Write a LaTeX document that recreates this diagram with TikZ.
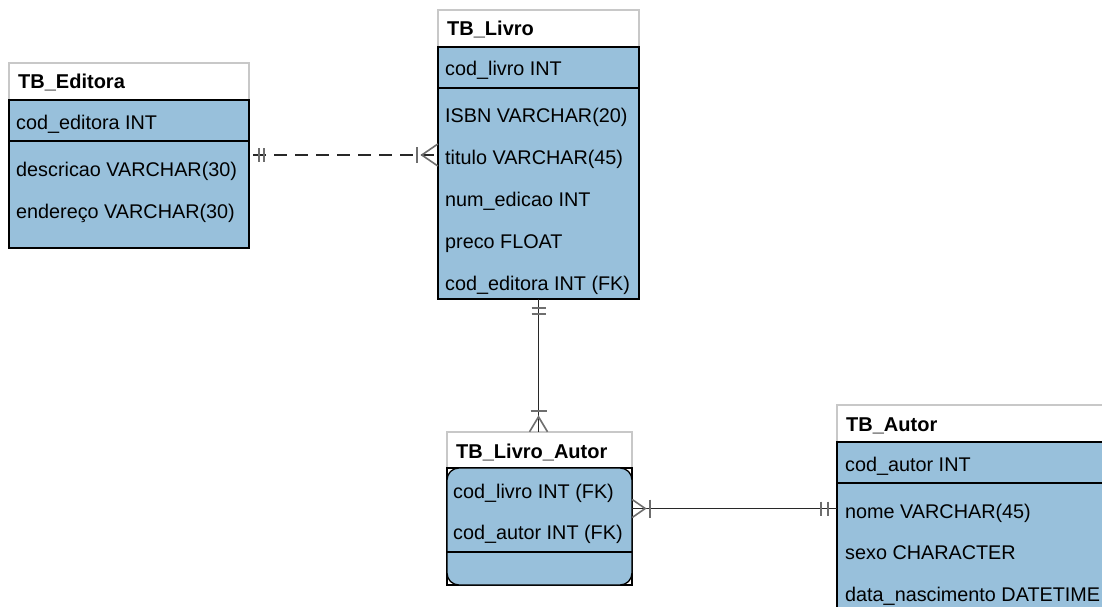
\documentclass[tikz,border=0pt]{standalone}
\usepackage{fontspec}
\setmainfont{Liberation Sans}
\usepackage{tikz}

\definecolor{rowblue}{RGB}{152,192,219}
\definecolor{titlegray}{RGB}{200,200,200}
\definecolor{markgray}{RGB}{110,110,110}
\definecolor{linedark}{RGB}{40,40,40}

\tikzset{
  tframe/.style={draw=none, inner sep=0pt},
  tbl/.style={draw=black, line width=1.3pt, fill=rowblue},
  tbltitle/.style={draw=titlegray, line width=1.3pt, fill=white},
  attr/.style={anchor=base west, inner sep=0pt, font=\fontsize{19.8}{22}\selectfont},
  ttl/.style={anchor=base west, inner sep=0pt, font=\fontsize{20}{22}\selectfont\bfseries},
  rel/.style={draw=linedark, line width=1.6pt},
  ermark/.style={draw=markgray, line width=2.2pt},
  erfoot/.style={draw=markgray, line width=1.6pt},
}

\begin{document}
\begin{tikzpicture}[x=1pt, y=-1pt]
\clip (0,0) rectangle (1102,607);
\fill[white] (0,0) rectangle (1102,607);

% TB_Editora
\node[tframe, minimum width=240pt, minimum height=185pt] (editora) at (129,155) {};
\draw[tbltitle] (9,63) rectangle (249,100);
\draw[tbl] (9,100) rectangle (249,248);
\draw[tbl] (9,141) -- (249,141);
\node[ttl] (editora-t) at (18,88.3) {TB\_Editora};
\node[attr] (editora-pk) at (16,129) {cod\_editora INT};
\node[attr] (editora-a1) at (16,176.5) {descricao VARCHAR(30)};
\node[attr] (editora-a2) at (16,218.5) {endereço VARCHAR(30)};

% TB_Livro
\node[tframe, minimum width=201pt, minimum height=289pt] (livro) at (538.5,154.5) {};
\draw[tbltitle] (438,10) rectangle (639,47);
\draw[tbl] (438,47) rectangle (639,299);
\draw[tbl] (438,88) -- (639,88);
\node[ttl] (livro-t) at (447,36) {TB\_Livro};
\node[attr] (livro-pk) at (445,76) {cod\_livro INT};
\node[attr] (livro-a1) at (445,122.5) {ISBN VARCHAR(20)};
\node[attr] (livro-a2) at (445,164.5) {titulo VARCHAR(45)};
\node[attr] (livro-a3) at (445,206) {num\_edicao INT};
\node[attr] (livro-a4) at (445,248) {preco FLOAT};
\node[attr] (livro-a5) at (445,290) {cod\_editora INT (FK)};

% TB_Livro_Autor
\node[tframe, minimum width=185pt, minimum height=153pt] (livroautor) at (539.5,508.5) {};
\draw[tbltitle] (447,432) rectangle (632,468);
\draw[draw=black, line width=1.3pt, fill=white] (447,468) rectangle (632,585);
\draw[tbl, rounded corners=12pt] (447,468) rectangle (632,585);
\draw[tbl] (447,552) -- (632,552);
\node[ttl] (livroautor-t) at (456,458.3) {TB\_Livro\_Autor};
\node[attr] (livroautor-a1) at (453,498.3) {cod\_livro INT (FK)};
\node[attr] (livroautor-a2) at (453,539.3) {cod\_autor INT (FK)};

% TB_Autor
\node[tframe, minimum width=269pt, minimum height=206pt] (autor) at (971.5,508.5) {};
\draw[tbltitle] (837,405) rectangle (1106,442);
\draw[tbl] (837,442) rectangle (1106,612);
\draw[tbl] (837,483) -- (1106,483);
\node[ttl] (autor-t) at (846,431.7) {TB\_Autor};
\node[attr] (autor-pk) at (845,471.7) {cod\_autor INT};
\node[attr] (autor-a1) at (845,518.3) {nome VARCHAR(45)};
\node[attr] (autor-a2) at (845,559.3) {sexo CHARACTER};
\node[attr] (autor-a3) at (845,601.7) {data\_nascimento DATETIME};

% Editora -- Livro
\draw[rel, dash pattern=on 13pt off 8pt, dash phase=-4pt] (editora.east) -- (editora.east -| livro.west);
\draw[ermark] ([xshift=10pt,yshift=7pt]editora.east) -- ([xshift=10pt,yshift=-7pt]editora.east);
\draw[ermark] ([xshift=15pt,yshift=7pt]editora.east) -- ([xshift=15pt,yshift=-7pt]editora.east);
\draw[ermark] ([xshift=-21pt,yshift=8pt]editora.east -| livro.west) -- ([xshift=-21pt,yshift=-8pt]editora.east -| livro.west);
\draw[erfoot] ([yshift=11pt]editora.east -| livro.west) -- ([xshift=-16pt]editora.east -| livro.west) -- ([yshift=-11pt]editora.east -| livro.west);

% Livro -- Livro_Autor
\draw[rel] (livro.south) -- (livro.south |- livroautor.north);
\draw[ermark] ([xshift=-7pt,yshift=-9pt]livro.south) -- ([xshift=7pt,yshift=-9pt]livro.south);
\draw[ermark] ([xshift=-7pt,yshift=-15pt]livro.south) -- ([xshift=7pt,yshift=-15pt]livro.south);
\draw[ermark] ([xshift=-8pt,yshift=21pt]livro.south |- livroautor.north) -- ([xshift=8pt,yshift=21pt]livro.south |- livroautor.north);
\draw[erfoot] ([xshift=-9pt]livro.south |- livroautor.north) -- ([yshift=15pt]livro.south |- livroautor.north) -- ([xshift=9pt]livro.south |- livroautor.north);

% Livro_Autor -- Autor
\draw[rel] (livroautor.east) -- (autor.west);
\draw[ermark] ([xshift=18pt,yshift=9pt]livroautor.east) -- ([xshift=18pt,yshift=-9pt]livroautor.east);
\draw[erfoot] ([yshift=9pt]livroautor.east) -- ([xshift=13pt]livroautor.east) -- ([yshift=-9pt]livroautor.east);
\draw[ermark] ([xshift=-16pt,yshift=7pt]autor.west) -- ([xshift=-16pt,yshift=-7pt]autor.west);
\draw[ermark] ([xshift=-9pt,yshift=7pt]autor.west) -- ([xshift=-9pt,yshift=-7pt]autor.west);
\end{tikzpicture}
\end{document}
